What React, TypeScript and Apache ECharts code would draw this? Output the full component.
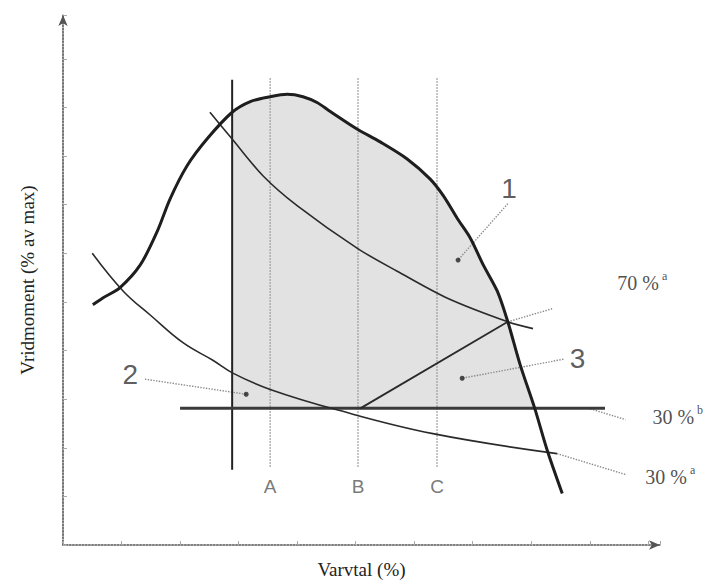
import React, { useEffect, useRef } from 'react';
import * as echarts from 'echarts';

// Axes: Varvtal (%) on x, Vridmoment (% av max) on y
const X_MAX = 102;
const Y_MAX = 109;

// Full-load torque curve (thick)
const FULL_LOAD: [number, number][] = [
  [5.1, 49.4], [6.8, 50.8], [9.7, 52.9], [13.2, 57.6], [16.1, 64.5], [18.3, 71.2],
  [21.2, 78.0], [24.6, 83.5], [28.9, 89.0], [32.0, 91.2], [35.4, 92.2], [38.3, 92.7],
  [41.0, 92.2], [43.4, 91.0], [45.6, 89.2], [50.3, 85.5], [54.2, 82.9], [58.8, 79.4],
  [62.7, 75.3], [65.0, 71.8], [67.4, 67.1], [69.6, 63.1], [71.8, 57.6], [74.2, 52.2],
  [76.0, 45.9], [78.1, 37.1], [80.6, 28.1], [82.7, 19.6], [85.3, 10.6],
];

// 70 % a curve
const CURVE_70A: [number, number][] = [
  [25.1, 89.0], [28.9, 83.5], [34.2, 75.9], [40.0, 69.8], [50.3, 61.0], [57.1, 56.3],
  [65.6, 50.8], [76.0, 45.9], [80.3, 44.5],
];

// 30 % a curve
const CURVE_30A: [number, number][] = [
  [5.0, 60.0], [10.3, 52.2], [14.9, 47.3], [20.5, 41.6], [25.6, 38.0], [29.1, 35.3],
  [35.4, 32.0], [46.8, 27.8], [63.2, 22.9], [84.4, 18.8],
];

// 30 % b horizontal line
const LEVEL_30B = 28.1;
const LINE_30B: [number, number][] = [[20.0, LEVEL_30B], [92.6, LEVEL_30B]];

// Line 3 (rising)
const LINE_3: [number, number][] = [[50.8, LEVEL_30B], [76.0, 45.9]];

// Left boundary (min speed)
const MIN_SPEED_X = 28.9;
const MIN_SPEED_LINE: [number, number][] = [[MIN_SPEED_X, 15.5], [MIN_SPEED_X, 95.7]];
const CROSS_X = 80.6;

// Speed points A, B, C
const GUIDE_X = [35.4, 50.4, 63.9];
const GUIDE_LABELS = ['A', 'B', 'C'];
const GUIDE_Y: [number, number] = [16.1, 96.0];
const GUIDE_LABEL_Y = 12.0;

// Leader lines
const LEADERS: [number, number][][] = [
  [[76.0, 70.2], [67.5, 58.6]],
  [[14.0, 34.1], [31.3, 31.0]],
  [[85.5, 38.2], [68.2, 34.3]],
  [[76.0, 45.9], [83.6, 48.6]],
  [[90.1, 28.0], [96.1, 25.8]],
  [[84.4, 18.8], [96.1, 14.5]],
];
const DOTS: [number, number][] = [[67.5, 58.6], [31.3, 31.0], [68.2, 34.3]];

// Region numbers
const NUM_LABELS = ['1', '2', '3'];
const NUM_POS: [number, number][] = [[76.2, 73.3], [11.5, 35.1], [87.9, 38.4]];

// Right-side labels
const SIDE_MAIN = ['70 %', '30 %', '30 %'];
const SIDE_SUP = ['a', 'b', 'a'];
const SIDE_POS: [number, number][] = [[94.7, 53.9], [100.7, 26.3], [99.5, 13.9]];

const SERIF = '"Liberation Serif", "Times New Roman", serif';
const SANS = '"Liberation Sans", Arial, sans-serif';

function lineSeries(data: [number, number][], color: string, width: number, type: string = 'solid', smooth: number | boolean = false, z = 3) {
  return {
    type: 'line',
    data,
    smooth,
    symbol: 'none',
    silent: true,
    z,
    lineStyle: { color, width, type },
  };
}

export default function App() {
  const ref = useRef<HTMLDivElement>(null);
  useEffect(() => {
    document.body.style.margin = '0';
    const chart = echarts.init(ref.current!, null, { renderer: 'svg' });
    const fillData = FULL_LOAD.filter((p) => p[0] >= MIN_SPEED_X && p[0] <= CROSS_X);

    const axisCommon = {
      type: 'value',
      splitLine: { show: false },
      axisLabel: { show: false },
      axisTick: { show: true, inside: true, length: 4, lineStyle: { color: '#aaa', width: 1 } },
      axisLine: {
        show: true,
        symbol: ['none', 'arrow'],
        symbolSize: [7, 11],
        lineStyle: { color: '#555', width: 1.6, type: 'dotted' },
      },
      nameLocation: 'middle',
      nameTextStyle: { fontFamily: SERIF, fontSize: 19, color: '#222' },
    };

    const series: any[] = [
      {
        type: 'line',
        data: fillData,
        smooth: 0.3,
        symbol: 'none',
        silent: true,
        z: 1,
        lineStyle: { width: 0, opacity: 0 },
        areaStyle: { origin: LEVEL_30B, color: '#e2e2e2', opacity: 1 },
      },
      ...GUIDE_X.map((x) => lineSeries([[x, GUIDE_Y[0]], [x, GUIDE_Y[1]]], '#9a9a9a', 1.5, 'dotted', false, 2)),
      lineSeries(MIN_SPEED_LINE, '#222', 2),
      lineSeries(LINE_30B, '#3a3a3a', 3),
      lineSeries(CURVE_70A, '#2a2a2a', 1.6, 'solid', 0.3),
      lineSeries(CURVE_30A, '#2a2a2a', 1.6, 'solid', 0.4),
      lineSeries(LINE_3, '#2a2a2a', 1.8),
      lineSeries(FULL_LOAD, '#1e1e1e', 3, 'solid', 0.3, 4),
      ...LEADERS.map((l) => lineSeries(l, '#8a8a8a', 1.4, 'dotted', false, 2)),
      {
        type: 'scatter',
        data: DOTS,
        symbol: 'circle',
        symbolSize: 5,
        silent: true,
        z: 5,
        itemStyle: { color: '#222' },
      },
      {
        type: 'scatter',
        symbolSize: 0,
        silent: true,
        clip: false,
        z: 6,
        data: GUIDE_X.map((x, i) => ({ value: [x, GUIDE_LABEL_Y], name: GUIDE_LABELS[i] })),
        label: {
          show: true,
          position: 'inside',
          formatter: (p: any) => p.name,
          fontFamily: SANS,
          fontSize: 19,
          color: '#555',
        },
      },
      {
        type: 'scatter',
        symbolSize: 0,
        silent: true,
        clip: false,
        z: 6,
        data: NUM_POS.map((p, i) => ({ value: p, name: NUM_LABELS[i] })),
        label: {
          show: true,
          position: 'inside',
          formatter: (p: any) => p.name,
          fontFamily: SANS,
          fontSize: 28,
          color: '#333',
        },
      },
      {
        type: 'scatter',
        symbolSize: 0,
        silent: true,
        clip: false,
        z: 6,
        data: SIDE_POS.map((p, i) => ({ value: p, name: `{n|${SIDE_MAIN[i]}}{s|${SIDE_SUP[i]}}` })),
        label: {
          show: true,
          position: 'right',
          distance: 0,
          formatter: (p: any) => p.name,
          rich: {
            n: { fontFamily: SERIF, fontSize: 20, color: '#222' },
            s: { fontFamily: SERIF, fontSize: 12, color: '#222', padding: [0, 0, 14, 3] },
          },
        },
      },
    ];

    chart.setOption({
      animation: false,
      backgroundColor: '#ffffff',
      grid: { left: 63, right: 44, top: 15, bottom: 35, containLabel: false },
      xAxis: { ...axisCommon, min: 0, max: X_MAX, interval: 10, name: 'Varvtal (%)', nameGap: 15 },
      yAxis: { ...axisCommon, min: 0, max: Y_MAX, interval: 10, name: 'Vridmoment (% av max)', nameGap: 26, nameRotate: 90 },
      series,
    });
    return () => chart.dispose();
  }, []);
  return <div ref={ref} style={{ width: 704, height: 584 }} />;
}
